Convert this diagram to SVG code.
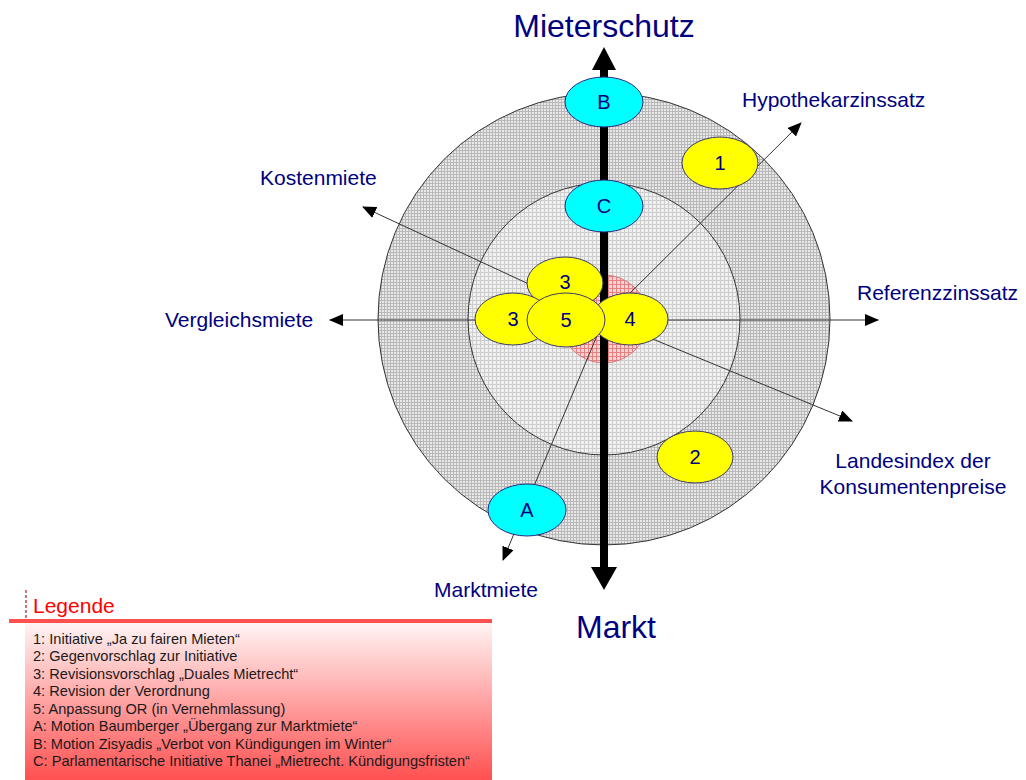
<svg xmlns="http://www.w3.org/2000/svg" width="1026" height="780" viewBox="0 0 1026 780">
<defs>
<pattern id="pOuter" width="3" height="3" patternUnits="userSpaceOnUse">
<rect width="3" height="3" fill="#e8e8e8"/>
<path d="M0 0.5H3M0.5 0V3" stroke="#b8b8b8" stroke-width="1"/>
</pattern>
<pattern id="pInner" width="4" height="4" patternUnits="userSpaceOnUse">
<rect width="4" height="4" fill="#f0f0f0"/>
<path d="M0 0.5H4M0.5 0V4" stroke="#cdcdcd" stroke-width="1"/>
</pattern>
<pattern id="pRed" width="4" height="4" patternUnits="userSpaceOnUse">
<rect width="4" height="4" fill="#f9d4d4"/>
<path d="M0 0.5H4M0.5 0V4" stroke="#e48080" stroke-width="1"/>
</pattern>
<linearGradient id="gLeg" x1="0" y1="0" x2="0" y2="1">
<stop offset="0" stop-color="#fff4f4"/>
<stop offset="1" stop-color="#ff5050"/>
</linearGradient>
<marker id="arr" markerWidth="14" markerHeight="12" refX="13" refY="6" orient="auto" markerUnits="userSpaceOnUse">
<path d="M0 0L14 6L0 12Z" fill="#000"/>
</marker>
<style>
.lbl{font-family:"Liberation Sans",Arial,sans-serif;fill:#000080;font-size:21px}
.big{font-family:"Liberation Sans",Arial,sans-serif;fill:#000080;font-size:32px}
.node{font-family:"Liberation Sans",Arial,sans-serif;fill:#000080;font-size:20px;text-anchor:middle}
.ye{fill:#ffff00;stroke:#3a3a6a;stroke-width:1}
.cy{fill:#00ffff;stroke:#2a2a80;stroke-width:1}
.ax{stroke:#333;stroke-width:1;fill:none;marker-end:url(#arr)}
.leg{font-family:"Liberation Sans",Arial,sans-serif;fill:#1a1a1a;font-size:14.6px}
</style>
</defs>
<rect width="1026" height="780" fill="#fff"/>
<g id="rings">
<circle cx="604" cy="319" r="226" fill="url(#pOuter)" stroke="#333" stroke-width="1"/>
<circle cx="604" cy="319" r="136" fill="url(#pInner)" stroke="#333" stroke-width="1"/>
<circle cx="604" cy="319" r="44" fill="url(#pRed)" stroke="#d08080" stroke-width="1"/>
</g>
<g id="connectors">
<line class="ax" x1="604" y1="320" x2="330" y2="320"/>
<line class="ax" x1="604" y1="320" x2="878" y2="320"/>
<line class="ax" x1="604" y1="319" x2="363" y2="207"/>
<line class="ax" x1="604" y1="319" x2="801" y2="123"/>
<line class="ax" x1="604" y1="319" x2="852" y2="421"/>
<line class="ax" x1="604" y1="319" x2="503" y2="560"/>
<g id="mainaxis">
<line x1="604" y1="66" x2="604" y2="570" stroke="#000" stroke-width="8"/>
<polygon points="604,47 616,70 592,70" fill="#000"/>
<polygon points="604,590 617,567 591,567" fill="#000"/>
</g>
</g>
<g id="node-B"><ellipse class="cy" cx="604" cy="102" rx="39" ry="25"/><text class="node" x="604" y="109">B</text></g>
<g id="node-C"><ellipse class="cy" cx="604" cy="206" rx="39" ry="26"/><text class="node" x="604" y="213">C</text></g>
<g id="node-A"><ellipse class="cy" cx="527" cy="510" rx="39" ry="26"/><text class="node" x="527" y="517">A</text></g>
<g id="node-1"><ellipse class="ye" cx="720" cy="163" rx="38" ry="26"/><text class="node" x="720" y="170">1</text></g>
<g id="node-2"><ellipse class="ye" cx="695" cy="457" rx="38" ry="26"/><text class="node" x="695" y="464">2</text></g>
<g id="node-3top"><ellipse class="ye" cx="565" cy="283" rx="38" ry="26"/><text class="node" x="565" y="289">3</text></g>
<g id="node-3left"><ellipse class="ye" cx="513" cy="319" rx="38" ry="26"/><text class="node" x="513" y="326">3</text></g>
<g id="node-4"><ellipse class="ye" cx="630" cy="319" rx="38" ry="26"/><text class="node" x="630" y="326">4</text></g>
<g id="node-5"><ellipse class="ye" cx="566" cy="320" rx="39" ry="27"/><text class="node" x="566" y="327">5</text></g>
<g id="labels">
<text class="big" x="604" y="37" text-anchor="middle">Mieterschutz</text>
<text class="big" x="616" y="638" text-anchor="middle">Markt</text>
<text class="lbl" x="742" y="107">Hypothekarzinssatz</text>
<text class="lbl" x="260" y="185">Kostenmiete</text>
<text class="lbl" x="165" y="327">Vergleichsmiete</text>
<text class="lbl" x="857" y="300">Referenzzinssatz</text>
<text class="lbl" x="913" y="468" text-anchor="middle">Landesindex der</text>
<text class="lbl" x="913" y="494" text-anchor="middle">Konsumentenpreise</text>
<text class="lbl" x="486" y="597" text-anchor="middle">Marktmiete</text>
</g>
<g id="legend">
<rect x="25" y="623" width="467" height="157" fill="url(#gLeg)"/>
<line x1="9" y1="621" x2="492" y2="621" stroke="#ff5050" stroke-width="4"/>
<line x1="26" y1="590" x2="26" y2="619" stroke="#b02020" stroke-width="1.2" stroke-dasharray="3,2"/>
<text x="33" y="613" font-family="Liberation Sans, Arial, sans-serif" font-size="21" fill="#ff0000">Legende</text>
<text class="leg" x="33" y="644">1: Initiative „Ja zu fairen Mieten“</text>
<text class="leg" x="33" y="661">2: Gegenvorschlag zur Initiative</text>
<text class="leg" x="33" y="678.5">3: Revisionsvorschlag „Duales Mietrecht“</text>
<text class="leg" x="33" y="696">4: Revision der Verordnung</text>
<text class="leg" x="33" y="713.5">5: Anpassung OR (in Vernehmlassung)</text>
<text class="leg" x="33" y="731">A: Motion Baumberger „Übergang zur Marktmiete“</text>
<text class="leg" x="33" y="748.5">B: Motion Zisyadis „Verbot von Kündigungen im Winter“</text>
<text class="leg" x="33" y="766">C: Parlamentarische Initiative Thanei „Mietrecht. Kündigungsfristen“</text>
</g>
</svg>
